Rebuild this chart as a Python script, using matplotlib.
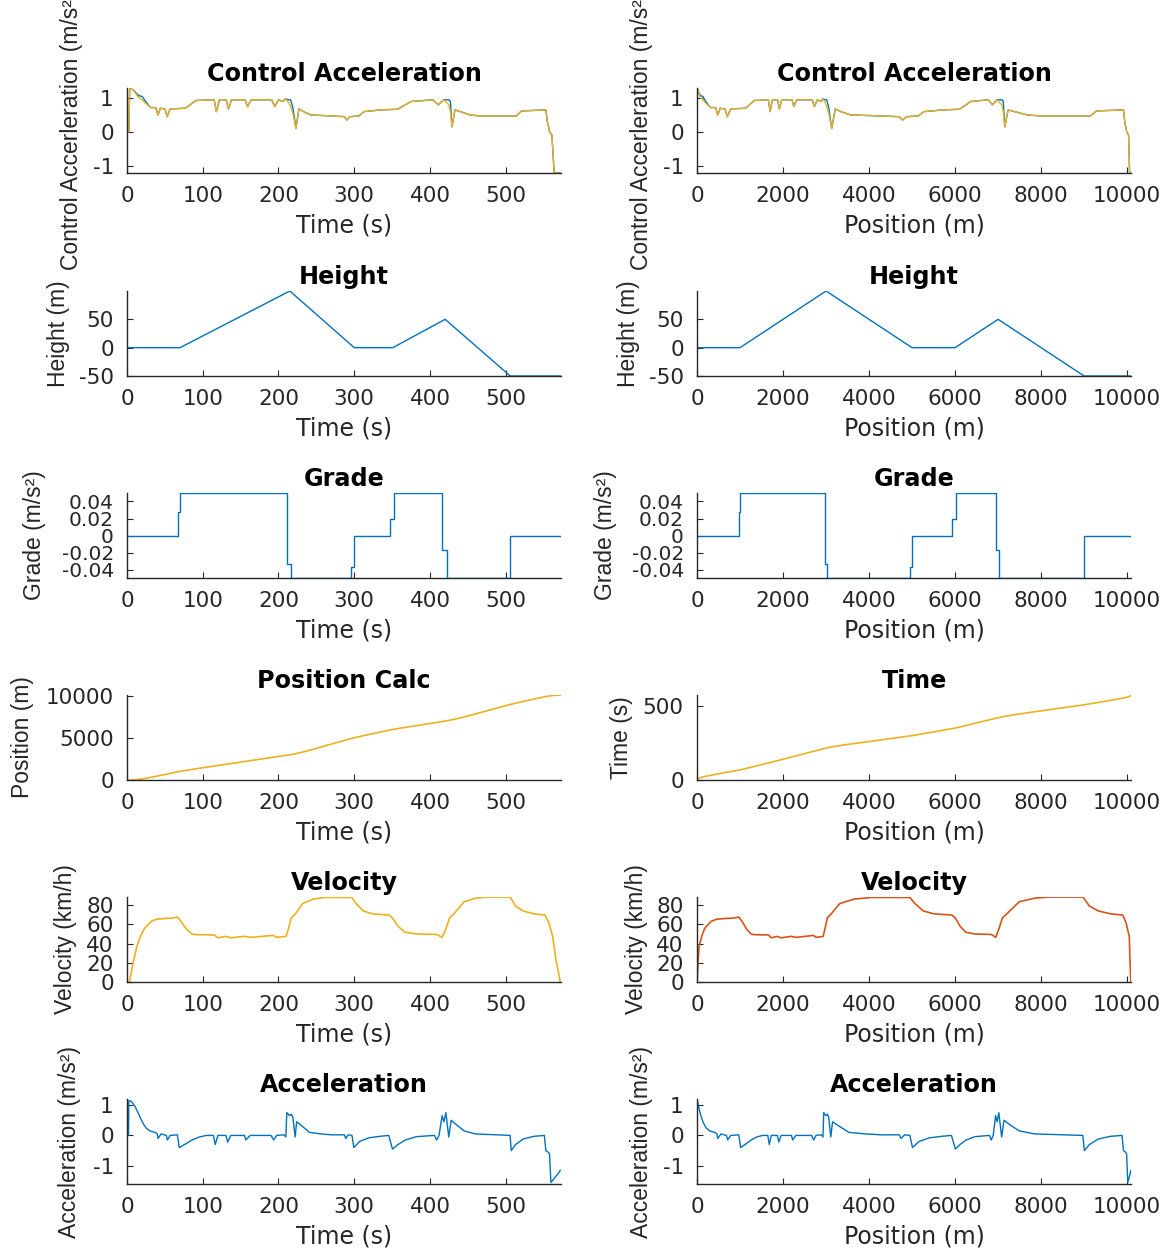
import numpy as np
import matplotlib
matplotlib.use("Agg")
import matplotlib.pyplot as plt

# matlab default line colours
blue = "#0072BD"
orange = "#D95319"
yellow = "#EDB120"

# position vs time (Position Calc panel)
pos_t = [0, 3, 13, 23, 32, 40, 52, 68, 79, 91, 115, 150, 180, 215, 222, 232, 246, 261,
         299, 312, 324, 350, 367, 382, 420, 431, 445, 460, 474, 507, 523, 537, 552, 562, 573]
pos_m = [0, 0, 48, 176, 330, 465, 685, 1000, 1160, 1330, 1660, 2130, 2530, 3000, 3110, 3320, 3650, 4050,
         5000, 5260, 5500, 6000, 6250, 6460, 7000, 7190, 7490, 7850, 8190, 9000, 9330, 9610, 9900, 10050, 10090]

# control acceleration (blue = command, yellow = applied)
ctrl_t = [0, 2.5, 3.5, 8, 12, 16, 20, 24, 28, 31, 38, 41, 44, 50, 53, 57, 77, 91, 115, 118, 122,
          131, 134, 138, 156, 159, 164, 191, 195, 200, 206, 209, 213, 216, 219, 223, 227, 233, 243,
          262, 287, 290, 294, 306, 313, 335, 357, 375, 404, 411, 418, 425, 427, 429, 433, 440, 453,
          467, 514, 521, 553, 555, 558, 561, 564, 573]
ctrl_cmd = [0, 0, 1.28, 1.25, 1.15, 1.07, 1.05, 0.92, 0.8, 0.72, 0.72, 0.5, 0.7, 0.68, 0.45, 0.68,
            0.7, 0.93, 0.95, 0.6, 0.95, 0.95, 0.68, 0.95, 0.95, 0.75, 0.95, 0.95, 0.75, 0.95, 0.9,
            0.98, 0.95, 0.95, 0.72, 0.1, 0.68, 0.6, 0.5, 0.48, 0.45, 0.35, 0.45, 0.47, 0.6, 0.65,
            0.67, 0.9, 0.95, 0.8, 0.95, 0.95, 0.9, 0.15, 0.65, 0.6, 0.5, 0.47, 0.47, 0.62, 0.65,
            0.3, 0.0, -0.1, -1.22, -1.22]
ctrl_act = [0, 0, 1.28, 1.25, 1.12, 1.0, 0.95, 0.86, 0.78, 0.72, 0.72, 0.5, 0.7, 0.68, 0.45, 0.68,
            0.7, 0.93, 0.95, 0.6, 0.95, 0.95, 0.68, 0.95, 0.95, 0.75, 0.95, 0.95, 0.75, 0.95, 0.9,
            0.98, 0.88, 0.75, 0.55, 0.1, 0.68, 0.6, 0.5, 0.48, 0.45, 0.35, 0.45, 0.47, 0.6, 0.65,
            0.67, 0.9, 0.95, 0.8, 0.95, 0.8, 0.6, 0.15, 0.65, 0.6, 0.5, 0.47, 0.47, 0.62, 0.65,
            0.3, 0.0, -0.1, -1.22, -1.22]

# road height
h_t = [0, 70, 215, 300, 351, 420, 506, 573]
h_pos = [0, 1000, 3000, 5000, 6000, 7000, 9000, 10090]
h_val = [0, 0, 100, 0, 0, 50, -50, -50]

# grade (step changes)
g_t = [0, 67.5, 70, 211, 217, 295.6, 299.5, 346.6, 352, 416, 422, 506, 573]
g_pos = [0, 980, 1010, 2980, 3030, 4950, 5000, 5940, 6010, 6960, 7010, 8990, 10090]
g_val = [0, 0.028, 0.05, -0.033, -0.05, -0.037, 0, 0.019, 0.05, -0.017, -0.05, 0, 0]

# velocity km/h
vel_t = [0, 3.4, 8, 13, 18, 23, 28, 32.5, 40, 52, 60, 66.5, 71, 79, 86, 91, 115, 120, 130, 137,
         154, 164, 193, 198, 210, 213, 217, 222, 232, 246, 261, 297, 302, 312, 324, 346, 350, 358,
         367, 382, 409, 416, 421, 426, 431, 445, 460, 474, 506, 513, 523, 537, 552, 557, 562, 566, 572]
vel_v = [0, 0, 20, 37, 48, 55.6, 60, 63.4, 65.5, 66.2, 66.5, 67.6, 63.4, 54.6, 50, 49.3, 49, 46,
         47.5, 46, 47.5, 46.5, 48.5, 46.5, 47.5, 55, 67, 70.4, 81.7, 86.3, 88, 88, 82, 74, 71, 69.7,
         67, 58, 51.8, 50, 49.5, 46.5, 55, 67, 70.4, 83.5, 87.3, 88.4, 88.4, 79, 74, 71, 69.7, 61.6,
         47.5, 25, 0]

# measured acceleration m/s^2
acc_t = [0, 2, 2.4, 6, 10.7, 15.5, 20, 25, 30, 37, 40, 41, 45, 52, 53.4, 57, 66.5, 69, 76, 86,
         95.6, 105, 114, 116.5, 120, 130.6, 133, 137, 155, 157, 162.6, 190, 193.7, 197.6, 207,
         209.7, 211, 214.6, 217, 219, 222, 224, 231.5, 241, 256, 270, 287, 288.8, 292, 297, 299.5,
         307, 319, 333.5, 345.6, 350.5, 357.8, 367.5, 382, 406, 408.7, 412, 416, 418.4, 421, 424.8,
         428, 435, 445, 459.7, 505.8, 507.3, 513, 522.8, 537, 551, 553, 556, 557.8, 559.7, 571, 572]
acc_v = [0, 0, 1.15, 1.12, 0.95, 0.7, 0.45, 0.25, 0.15, 0.1, 0.05, -0.1, 0.05, 0.0, -0.15, 0.0,
         0.02, -0.4, -0.3, -0.15, -0.05, 0.0, 0.0, -0.3, 0.0, 0.0, -0.22, 0.0, 0.0, -0.15, 0.0, 0.0,
         -0.15, 0.0, 0.02, -0.05, 0.75, 0.65, 0.7, 0.6, -0.05, 0.45, 0.3, 0.1, 0.05, 0.02, 0.02, -0.1,
         0.02, 0.0, -0.4, -0.2, -0.08, -0.03, 0.0, -0.45, -0.3, -0.15, -0.04, 0.0, -0.15, 0.0, 0.65,
         0.45, 0.75, -0.05, 0.5, 0.35, 0.15, 0.05, 0.0, -0.5, -0.3, -0.12, -0.03, 0.0, -0.5, -0.55,
         -0.6, -1.55, -1.2, -1.15]


def to_pos(t):
    # map the time samples onto the distance travelled
    return np.interp(t, pos_t, pos_m)


W, H = 1173, 1249
fig = plt.figure(figsize=(W / 100, H / 100), dpi=100)
plt.rcParams['axes.unicode_minus'] = False

tops = [88, 291, 493, 695, 897, 1099]
lefts = [127, 697]
gray = "#262626"


def make_ax(row, col):
    ax = fig.add_axes([lefts[col] / W, 1 - (tops[row] + 85) / H, 434 / W, 85 / H])
    ax.spines['top'].set_visible(False)
    ax.spines['right'].set_visible(False)
    for s in ('left', 'bottom'):
        ax.spines[s].set_color(gray)
        ax.spines[s].set_linewidth(1.0)
    ax.tick_params(direction='in', length=4, width=0.8, colors=gray, labelsize=15.5, pad=9.5)
    if col == 0:
        ax.set_xlim(0, 573)
        ax.set_xticks([0, 100, 200, 300, 400, 500])
        ax.set_xlabel("Time (s)", fontsize=17, color=gray, labelpad=5.5)
    else:
        ax.set_xlim(0, 10090)
        ax.set_xticks([0, 2000, 4000, 6000, 8000, 10000])
        ax.set_xlabel("Position (m)", fontsize=17, color=gray, labelpad=5.5)
    return ax


def finish(ax, title, ylabel, lab_x):
    ax.set_title(title, fontsize=17.2, fontweight='bold', pad=5)
    ax.set_ylabel(ylabel, fontsize=16.5, color=gray, family='Liberation Sans')
    ax.yaxis.set_label_coords(lab_x, 0.5)


lab_left = [-0.101, -0.132, -0.187, -0.214, -0.115, -0.106]
lab_right = [-0.101, -0.131, -0.184, -0.147, -0.113, -0.101]

for col in range(2):
    xs = ctrl_t if col == 0 else to_pos(ctrl_t)
    labs = lab_left if col == 0 else lab_right

    # control acceleration
    ax = make_ax(0, col)
    ax.plot(xs, ctrl_cmd, color=blue, lw=1.0)
    ax.plot(xs, ctrl_act, color=yellow, lw=1.0)
    ax.set_ylim(-1.22, 1.3)
    ax.set_yticks([-1, 0, 1], ['-1', '0', '1'])
    finish(ax, "Control Acceleration", "Control Accerleration (m/s²)", labs[0])

    # height
    ax = make_ax(1, col)
    ax.plot(h_t if col == 0 else h_pos, h_val, color=blue, lw=1.0)
    ax.set_ylim(-50, 100)
    ax.set_yticks([-50, 0, 50], ['-50', '0', '50'])
    finish(ax, "Height", "Height (m)", labs[1])

    # grade
    ax = make_ax(2, col)
    ax.plot(g_t if col == 0 else g_pos, g_val, color=blue, lw=1.0, drawstyle='steps-post')
    ax.set_ylim(-0.05, 0.05)
    ax.set_yticks([-0.04, -0.02, 0, 0.02, 0.04], ['-0.04', '-0.02', '0', '0.02', '0.04'])
    ax.tick_params(axis='y', labelsize=14.5)
    finish(ax, "Grade", "Grade (m/s²)", labs[2])

    # position / time
    ax = make_ax(3, col)
    if col == 0:
        ax.plot(pos_t, pos_m, color=yellow, lw=1.2)
        ax.set_ylim(0, 10100)
        ax.set_yticks([0, 5000, 10000], ['0', '5000', '10000'])
        finish(ax, "Position Calc", "Position (m)", labs[3])
    else:
        ax.plot(pos_m, pos_t, color=yellow, lw=1.2)
        ax.set_ylim(0, 573)
        ax.set_yticks([0, 500], ['0', '500'])
        finish(ax, "Time", "Time (s)", labs[3])

    # velocity
    ax = make_ax(4, col)
    if col == 0:
        ax.plot(vel_t, vel_v, color=yellow, lw=1.2)
    else:
        ax.plot(to_pos(vel_t), vel_v, color=orange, lw=1.2)
    ax.set_ylim(0, 88.5)
    ax.set_yticks([0, 20, 40, 60, 80], ['0', '20', '40', '60', '80'])
    finish(ax, "Velocity", "Velocity (km/h)", labs[4])

    # acceleration
    ax = make_ax(5, col)
    ax.plot(acc_t if col == 0 else to_pos(acc_t), acc_v, color=blue, lw=1.0)
    ax.set_ylim(-1.6, 1.2)
    ax.set_yticks([-1, 0, 1], ['-1', '0', '1'])
    finish(ax, "Acceleration", "Acceleration (m/s²)", labs[5])

fig.savefig("out.png", dpi=100)
